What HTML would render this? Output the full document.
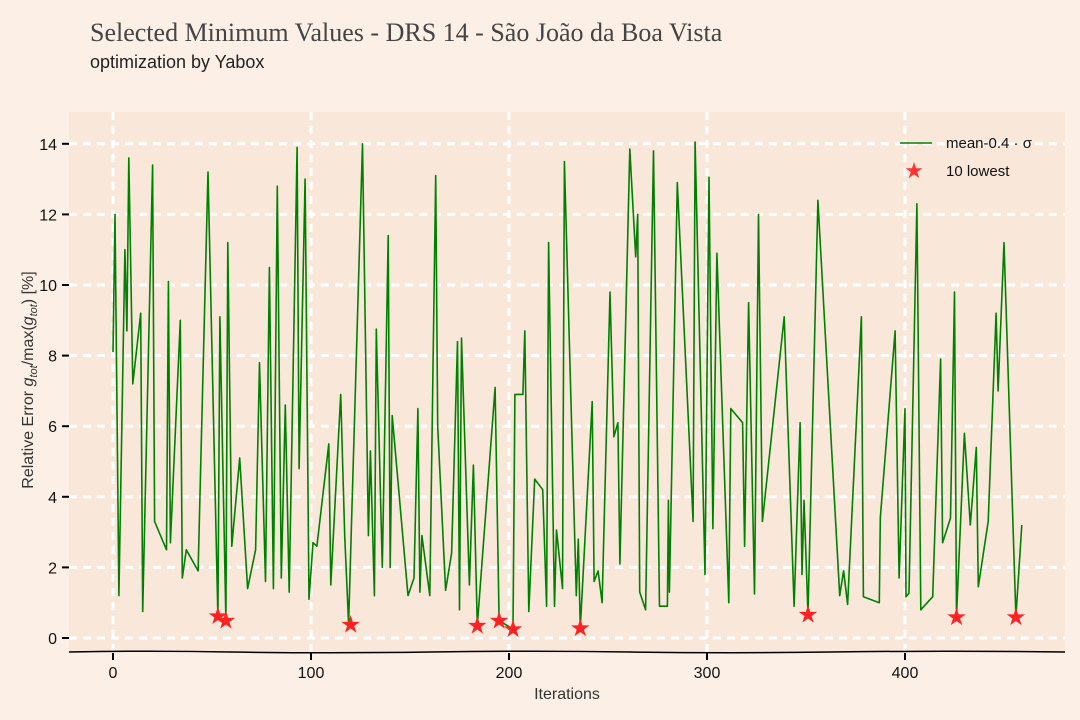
<!DOCTYPE html>
<html><head><meta charset="utf-8"><style>
body{margin:0;background:#fcf0e6;}
svg{display:block;font-family:"Liberation Sans",sans-serif;}
</style></head><body>
<svg id="chart" width="1080" height="720">
<rect x="0" y="0" width="1080" height="720" fill="#fcf0e6"/>
<text x="90" y="41" font-family="Liberation Serif, serif" font-size="26" fill="#444">Selected Minimum Values - DRS 14 - São João da Boa Vista</text>
<text x="90" y="68" font-size="18" fill="#222">optimization by Yabox</text>
<rect x="69" y="112" width="996" height="540" fill="#f9e7da"/>
<g id="grid"></g>
<g id="series"></g>
<path d="M69 652 Q150 650.5 230 652 Q330 653.5 430 652 Q530 650.5 630 652 Q730 653.5 830 652 Q950 650.5 1065 652" stroke="#000" stroke-width="1.5" fill="none"/>
<g id="axes"></g>
<text x="567" y="699" text-anchor="middle" font-size="16" fill="#333">Iterations</text>
<text transform="translate(33,380) rotate(-90)" text-anchor="middle" font-size="16" fill="#333">Relative Error <tspan font-style="italic">g</tspan><tspan font-size="11" dy="4" font-style="italic">tot</tspan><tspan dy="-4">/max(</tspan><tspan font-style="italic">g</tspan><tspan font-size="11" dy="4" font-style="italic">tot</tspan><tspan dy="-4">) [%]</tspan></text>
<g>
<line x1="900" y1="143" x2="932" y2="143" stroke="#008000" stroke-width="1.5"/>
<text x="946" y="148" font-size="15" fill="#111">mean-0.4 · σ</text>
<text x="914" y="178" font-size="22" fill="#f33" text-anchor="middle">★</text>
<text x="946" y="176" font-size="15" fill="#111">10 lowest</text>
</g>
</svg>
<script>
const iters=[0,1,3,6,7,8,10,14,15,20,21,27,28,29,34,35,37,43,48,53,54,57,58,60,64,68,72,74,77,79,81,83,85,87,89,93,94,97,99,101,103,109,110,115,117,119,126,129,130,132,133,136,139,140,141,149,152,154,155,156,160,163,164,168,171,174,175,176,180,182,184,193,195,202,203,207,208,210,213,217,219,220,223,224,227,228,234,235,236,242,243,245,247,251,253,255,256,261,264,265,266,269,273,276,280,280.5,281,285,293,294,299,301,303,305,311,312,318,319,321,324,326,328,339,344,347,348,349,351,356,367,369,371,378,379,387,387.5,395,397,400,400.5,402,406,408,414,418,419,423,425,426,430,433,436,437,442,446,447,450,456,459];
const values=[8.1,12.0,1.2,11.0,8.7,13.6,7.2,9.2,0.75,13.4,3.3,2.5,10.1,2.7,9.0,1.7,2.5,1.9,13.2,0.6,9.1,0.5,11.2,2.6,5.1,1.4,2.5,7.8,1.6,10.5,1.4,12.8,1.7,6.6,1.3,13.9,4.8,13.0,1.1,2.7,2.6,5.5,1.5,6.9,2.9,0.4,14.0,2.9,5.3,1.2,8.75,2.0,11.4,2.0,6.3,1.2,1.7,6.5,1.3,2.9,1.2,13.1,6.0,1.35,2.4,8.4,0.8,8.5,1.5,4.9,0.35,7.1,0.5,0.25,6.9,6.9,8.7,0.75,4.5,4.2,0.9,11.2,0.9,3.06,1.4,13.5,1.2,2.8,0.28,6.7,1.6,1.9,1.0,9.8,5.7,6.1,2.1,13.85,10.8,12.0,1.3,0.8,13.8,0.9,0.9,3.9,1.3,12.9,3.3,14.05,1.8,13.05,3.1,10.9,1.0,6.5,6.1,2.6,9.5,1.25,12.0,3.3,9.1,0.9,6.1,1.8,3.9,0.68,12.4,1.2,1.9,0.95,9.1,1.17,1.0,3.4,8.7,1.7,6.5,1.17,1.27,12.3,0.8,1.17,7.9,2.7,3.4,9.8,0.62,5.8,3.2,5.4,1.45,3.3,9.2,7.0,11.2,0.6,3.2];
const starIters=[53,57,120,184,195,202,236,351,426,456];
const starValues=[0.62,0.5,0.38,0.35,0.5,0.25,0.28,0.67,0.6,0.6];
const xTicks=[0,100,200,300,400];
const yTicks=[0,2,4,6,8,10,12,14];
const NS='http://www.w3.org/2000/svg';
const X=v=>113+v*1.98, Y=v=>638-v*35.3;
function mk(tag,attrs,parent){const e=document.createElementNS(NS,tag);for(const k in attrs)e.setAttribute(k,attrs[k]);parent.appendChild(e);return e;}
const grid=document.getElementById('grid'),axes=document.getElementById('axes'),series=document.getElementById('series');
xTicks.forEach(t=>{
  const l=mk('line',{x1:X(t),x2:X(t),y1:112,y2:652,stroke:'#fff','stroke-width':3,'stroke-dasharray':'8 6'},grid);
  
  
  const tk=mk('line',{x1:X(t),x2:X(t),y1:653,y2:660,stroke:'#000','stroke-width':2},axes);
  
  
  const tx=mk('text',{x:X(t),y:678,'text-anchor':'middle','font-size':16,fill:'#111'},axes);
  tx.textContent=t;
  
  
});
yTicks.forEach(t=>{
  const l=mk('line',{x1:69,x2:1065,y1:Y(t),y2:Y(t),stroke:'#fff','stroke-width':3,'stroke-dasharray':'8 6'},grid);
  
  
  const tk=mk('line',{x1:62,x2:69,y1:Y(t),y2:Y(t),stroke:'#000','stroke-width':2},axes);
  
  
  const tx=mk('text',{x:57,y:Y(t)+6,'text-anchor':'end','font-size':16,fill:'#111'},axes);
  tx.textContent=t;
  
  
});
const d=iters.map((v,i)=>(i?'L':'M')+X(v).toFixed(1)+' '+Y(values[i]).toFixed(1)).join(' ');
const p=mk('path',{d:d,fill:'none',stroke:'#008000','stroke-width':1.6,'stroke-linejoin':'round'},series);


starIters.forEach((v,i)=>{
  const s=mk('text',{x:X(v),y:Y(starValues[i])+8,'text-anchor':'middle','font-size':24,fill:'#f22'},series);
  s.textContent='★';
  
  
});
</script>
</body></html>
